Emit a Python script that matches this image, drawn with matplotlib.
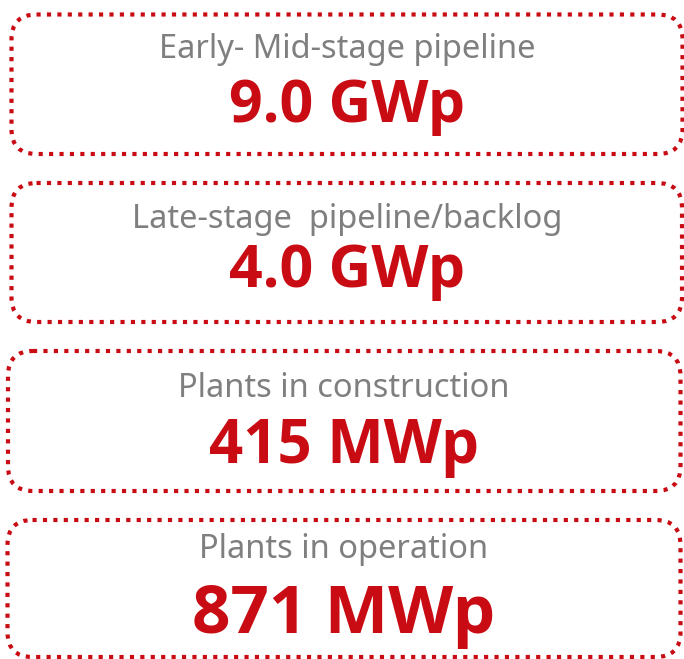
import matplotlib.pyplot as plt
from matplotlib.patches import FancyBboxPatch

titles = ['Early- Mid-stage pipeline', 'Late-stage  pipeline/backlog',
          'Plants in construction', 'Plants in operation']
values = ['9.0 GWp', '4.0 GWp', '415 MWp', '871 MWp']

# box layout in pixels: left, top, right, bottom
boxes = [(11.5, 14.5, 682.5, 154), (11.5, 183, 682, 322),
         (8, 351, 680.5, 491), (7.5, 520, 680.5, 657)]
title_y = [58, 228, 397, 558]
value_y = [122, 287, 463, 633]
value_size = [42.5, 42.5, 43.2, 48.5]

RED = '#C90C14'
GREY = '#7F7F7F'

fig = plt.figure(figsize=(6.84, 6.59), dpi=100)
ax = fig.add_axes([0, 0, 1, 1])
ax.set_xlim(0, 684)
ax.set_ylim(659, 0)
ax.axis('off')

for i, (l, t, r, b) in enumerate(boxes):
    box = FancyBboxPatch((l, t), r - l, b - t,
                         boxstyle='round,pad=0,rounding_size=25',
                         fill=False, edgecolor=RED, linewidth=3.0,
                         linestyle=(0, (1, 1.5)), capstyle='butt')
    ax.add_patch(box)
    cx = (l + r) / 2
    ax.text(cx, title_y[i], titles[i], ha='center', va='baseline',
            fontsize=23.5, color=GREY, family='Noto Sans')
    ax.text(cx, value_y[i], values[i], ha='center', va='baseline',
            fontsize=value_size[i], color=RED, family='Open Sans',
            fontweight='bold')

fig.savefig('out.png', dpi=100)
